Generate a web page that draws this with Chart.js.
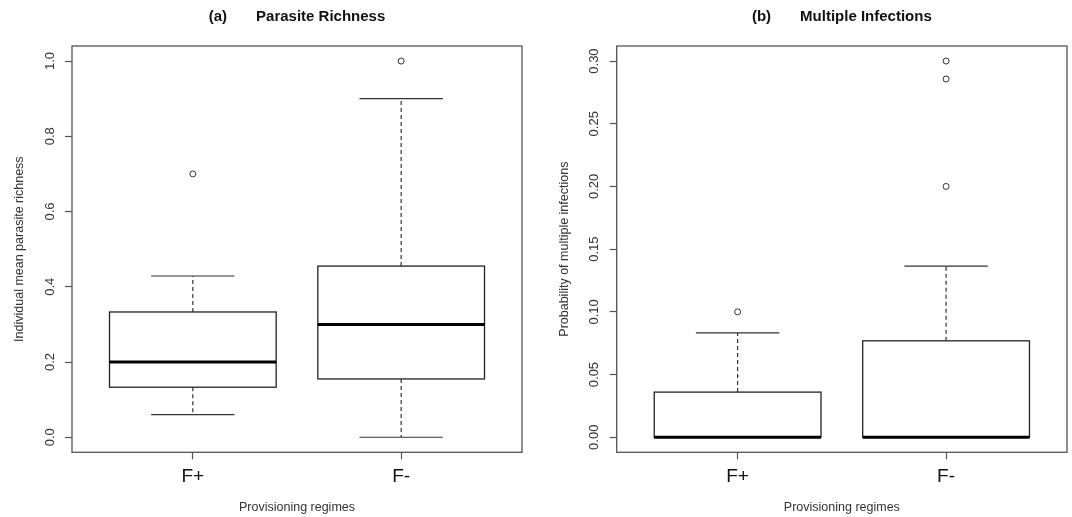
<!DOCTYPE html>
<html>
<head>
<meta charset="utf-8">
<script src="https://cdn.jsdelivr.net/npm/chart.js@4"></script>
<style>
  html, body { margin: 0; padding: 0; background: #fff; overflow: hidden; }
  #wrap { position: relative; width: 1072px; height: 517px; }
  canvas { position: absolute; top: 0; }
</style>
</head>
<body>
<div id="wrap">
  <canvas id="chartA" width="536" height="517" style="left:0px"></canvas>
  <canvas id="chartB" width="536" height="517" style="left:536px"></canvas>
</div>
<script>
// ---------------- data ----------------
const categories = ['F+', 'F-'];

// Panel (a) Parasite Richness
const richLow     = [0.06, 0.0];
const richQ1      = [0.133, 0.155];
const richMedian  = [0.2, 0.3];
const richQ3      = [0.333, 0.455];
const richHigh    = [0.4286, 0.9];
const richOutliers = [[0.7], [1.0]];
const richTicks   = [0, 0.2, 0.4, 0.6, 0.8, 1.0];

// Panel (b) Multiple Infections
const multLow     = [0, 0];
const multQ1      = [0, 0];
const multMedian  = [0, 0];
const multQ3      = [0.036, 0.0769];
const multHigh    = [0.0833, 0.1364];
const multOutliers = [[0.1], [0.2, 0.2857, 0.3]];
const multTicks   = [0, 0.05, 0.10, 0.15, 0.20, 0.25, 0.30];

// ---------------- chart setup ----------------
const FONT = 'Liberation Sans, Arial, Helvetica, sans-serif';
Chart.defaults.font.family = FONT;
Chart.defaults.animation = false;

const boxPlugin = {
  id: 'rbox',
  beforeDatasetsDraw(chart, args, p) {
    const { ctx, scales: { x, y } } = chart;
    const py = v => y.getPixelForValue(v);
    ctx.save();
    categories.forEach((c, i) => {
      const cx = x.getPixelForValue(i + 1);
      const hw = x.getPixelForValue(i + 1 + 0.4) - cx;
      const cw = hw / 2;
      // dashed whiskers
      ctx.strokeStyle = '#333';
      ctx.lineWidth = 1.2;
      ctx.setLineDash([4, 3]);
      ctx.beginPath();
      ctx.moveTo(cx, py(p.q3[i])); ctx.lineTo(cx, py(p.hi[i]));
      ctx.moveTo(cx, py(p.q1[i])); ctx.lineTo(cx, py(p.lo[i]));
      ctx.stroke();
      ctx.setLineDash([]);
      // staples
      ctx.beginPath();
      ctx.moveTo(cx - cw, py(p.hi[i])); ctx.lineTo(cx + cw, py(p.hi[i]));
      ctx.moveTo(cx - cw, py(p.lo[i])); ctx.lineTo(cx + cw, py(p.lo[i]));
      ctx.stroke();
      // box
      const top = py(p.q3[i]), bot = py(p.q1[i]);
      ctx.fillStyle = '#fff';
      ctx.fillRect(cx - hw, top, 2 * hw, bot - top);
      ctx.strokeStyle = '#222';
      ctx.lineWidth = 1.3;
      ctx.strokeRect(cx - hw, top, 2 * hw, bot - top);
      // median
      ctx.strokeStyle = '#000';
      ctx.lineWidth = 3;
      ctx.beginPath();
      ctx.moveTo(cx - hw, py(p.med[i])); ctx.lineTo(cx + hw, py(p.med[i]));
      ctx.stroke();
    });
    ctx.restore();
  },
  afterDraw(chart, args, p) {
    const { ctx, chartArea: ca, scales: { y } } = chart;
    ctx.save();
    // plot frame
    ctx.strokeStyle = '#555';
    ctx.lineWidth = 1.3;
    ctx.strokeRect(ca.left, ca.top, ca.right - ca.left, ca.bottom - ca.top);
    // rotated y tick labels
    ctx.fillStyle = '#333';
    ctx.font = '13px ' + FONT;
    ctx.textAlign = 'center';
    ctx.textBaseline = 'middle';
    p.ticks.forEach(v => {
      ctx.save();
      ctx.translate(ca.left - 22, y.getPixelForValue(v));
      ctx.rotate(-Math.PI / 2);
      ctx.fillText(v.toFixed(p.decimals), 0, 0);
      ctx.restore();
    });
    // title
    ctx.fillStyle = '#111';
    ctx.font = 'bold 15px ' + FONT;
    ctx.textAlign = 'left';
    const w1 = ctx.measureText(p.tag).width;
    const w2 = ctx.measureText(p.title).width;
    const gap = 29;
    const total = w1 + gap + w2;
    const x0 = (ca.left + ca.right) / 2 - total / 2;
    ctx.fillText(p.tag, x0, 17);
    ctx.fillText(p.title, x0 + w1 + gap, 17);
    ctx.restore();
  }
};

function makeChart(id, panel) {
  const outlierPoints = [];
  panel.outliers.forEach((arr, i) => arr.forEach(v => outlierPoints.push({ x: i + 1, y: v })));
  return new Chart(document.getElementById(id), {
    type: 'scatter',
    data: {
      datasets: [{
        data: outlierPoints,
        pointStyle: 'circle',
        pointRadius: 3,
        pointBorderWidth: 1,
        pointBorderColor: '#333',
        pointBackgroundColor: 'rgba(255,255,255,0)'
      }]
    },
    options: {
      responsive: false,
      devicePixelRatio: 1,
      layout: { padding: { top: 46, left: 0, right: panel.padRight, bottom: 0 } },
      plugins: {
        legend: { display: false },
        tooltip: { enabled: false },
        rbox: panel
      },
      scales: {
        x: {
          type: 'linear',
          min: 0.42, max: 2.58,
          afterBuildTicks: s => { s.ticks = categories.map((c, i) => ({ value: i + 1 })); },
          afterFit: s => { s.height = 64.7; },
          border: { display: false },
          grid: { drawOnChartArea: false, drawTicks: true, tickLength: 7, color: '#555', tickWidth: 1.2 },
          ticks: {
            callback: v => categories[v - 1],
            font: { size: 19 },
            color: '#111',
            padding: 6,
            maxRotation: 0
          },
          title: {
            display: true,
            text: 'Provisioning regimes',
            font: { size: 12.5 },
            color: '#333',
            padding: { top: 0, bottom: 1.5 }
          }
        },
        y: {
          type: 'linear',
          min: panel.min, max: panel.max,
          afterBuildTicks: s => { s.ticks = panel.ticks.map(v => ({ value: v })); },
          afterFit: s => { s.width = panel.yWidth; },
          border: { display: false },
          grid: { drawOnChartArea: false, drawTicks: true, tickLength: 7, color: '#555', tickWidth: 1.2 },
          ticks: { display: false },
          title: {
            display: true,
            text: panel.yTitle,
            font: { size: 12.5 },
            color: '#333',
            padding: { top: panel.yTitlePad, bottom: 0 }
          }
        }
      }
    },
    plugins: [boxPlugin]
  });
}

makeChart('chartA', {
  tag: '(a)', title: 'Parasite Richness',
  yTitle: 'Individual mean parasite richness',
  lo: richLow, q1: richQ1, med: richMedian, q3: richQ3, hi: richHigh,
  outliers: richOutliers, ticks: richTicks, decimals: 1,
  min: -0.04, max: 1.04,
  yWidth: 72, padRight: 14, yTitlePad: 12.5
});

makeChart('chartB', {
  tag: '(b)', title: 'Multiple Infections',
  yTitle: 'Probability of multiple infections',
  lo: multLow, q1: multQ1, med: multMedian, q3: multQ3, hi: multHigh,
  outliers: multOutliers, ticks: multTicks, decimals: 2,
  min: -0.012, max: 0.312,
  yWidth: 80.7, padRight: 4.7, yTitlePad: 21.5
});
</script>
</body>
</html>
